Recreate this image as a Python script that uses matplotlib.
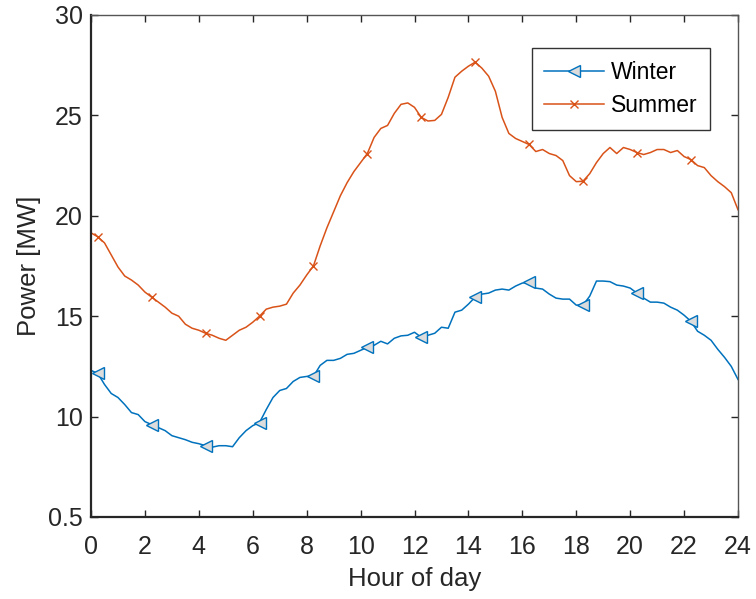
import numpy as np
import matplotlib
matplotlib.use("Agg")
import matplotlib.pyplot as plt

# Load profiles, 15 min resolution, 0h .. 24h (4 values per hour)
hours = np.arange(0, 24.01, 0.25)

winter = [
    12.3, 12.15, 11.6, 11.15,
    10.95, 10.6, 10.2, 10.1,
    9.75, 9.6, 9.45, 9.3,
    9.05, 8.95, 8.85, 8.72,
    8.65, 8.55, 8.48, 8.55,
    8.55, 8.5, 8.95, 9.3,
    9.55, 9.7, 10.35, 10.95,
    11.3, 11.4, 11.75, 11.95,
    12.0, 12.0, 12.55, 12.8,
    12.8, 12.9, 13.1, 13.15,
    13.3, 13.45, 13.55, 13.75,
    13.62, 13.9, 14.02, 14.05,
    14.2, 13.95, 14.05, 14.15,
    14.45, 14.4, 15.2, 15.3,
    15.6, 15.95, 16.1, 16.15,
    16.3, 16.35, 16.3, 16.5,
    16.65, 16.7, 16.4, 16.35,
    16.1, 15.9, 15.85, 15.85,
    15.55, 15.55, 16.0, 16.75,
    16.75, 16.72, 16.55, 16.5,
    16.4, 16.15, 15.9, 15.7,
    15.7, 15.65, 15.45, 15.3,
    15.05, 14.75, 14.25, 14.05,
    13.8, 13.35, 12.95, 12.5,
    11.85,
]

summer = [
    19.15, 18.95, 18.65, 18.05,
    17.45, 17.0, 16.8, 16.55,
    16.2, 15.95, 15.7, 15.45,
    15.15, 15.0, 14.6, 14.4,
    14.3, 14.15, 14.05, 13.9,
    13.8, 14.05, 14.3, 14.45,
    14.7, 15.0, 15.35, 15.45,
    15.5, 15.6, 16.15, 16.55,
    17.05, 17.5, 18.5, 19.4,
    20.2, 21.0, 21.65, 22.2,
    22.65, 23.1, 23.9, 24.35,
    24.5, 25.1, 25.55, 25.62,
    25.4, 24.9, 24.72, 24.75,
    25.05, 25.9, 26.9, 27.2,
    27.45, 27.65, 27.35, 26.95,
    26.2, 24.9, 24.1, 23.85,
    23.7, 23.55, 23.2, 23.3,
    23.1, 23.0, 22.75, 22.0,
    21.7, 21.72, 22.1, 22.65,
    23.1, 23.4, 23.1, 23.4,
    23.3, 23.15, 23.05, 23.15,
    23.3, 23.3, 23.15, 23.25,
    22.95, 22.8, 22.5, 22.4,
    22.0, 21.7, 21.45, 21.15,
    20.3,
]

xticks = list(range(0, 25, 2))
yticks = [5, 10, 15, 20, 25, 30]
ytick_labels = ["0.5", "10", "15", "20", "25", "30"]

plt.rcParams["font.family"] = ["Liberation Sans", "DejaVu Sans"]

fig = plt.figure(figsize=(7.56, 5.99), dpi=100)
ax = fig.add_axes([0.1204, 0.1369, 0.8558, 0.8381])

ax.plot(hours, winter, color="#0072BD", lw=1.1, marker="<", ms=9,
        mfc="#dcdcdc", mec="#0072BD", mew=1.0,
        markevery=slice(1, None, 8), label="Winter")
ax.plot(hours, summer, color="#D95319", lw=1.1, marker="x", ms=6,
        mew=1.0, markevery=slice(1, None, 8), label="Summer")

ax.set_xlim(0, 24)
ax.set_ylim(5, 30)
ax.set_xticks(xticks)
ax.set_yticks(yticks)
ax.set_yticklabels(ytick_labels)
ax.tick_params(direction="in", length=5, width=1, labelsize=18,
               top=True, right=True, colors="#262626")
ax.tick_params(axis="x", pad=13)
ax.tick_params(axis="y", pad=6)

for side in ["left", "bottom"]:
    ax.spines[side].set_linewidth(1.6)
    ax.spines[side].set_color("#262626")
for side in ["top", "right"]:
    ax.spines[side].set_linewidth(1.0)
    ax.spines[side].set_color("#555555")

ax.set_xlabel("Hour of day", fontsize=18.5, color="#262626", labelpad=6)
ax.set_ylabel("Power [MW]", fontsize=18.5, color="#262626", labelpad=5)

leg = ax.legend(loc="upper right", bbox_to_anchor=(0.957, 0.934),
                fontsize=16.5, fancybox=False, framealpha=1,
                edgecolor="#333333", handlelength=2.6, borderpad=0.55,
                labelspacing=0.45, handletextpad=0.3, borderaxespad=0)
leg.get_frame().set_linewidth(1.0)

fig.savefig("out.png", dpi=100)
